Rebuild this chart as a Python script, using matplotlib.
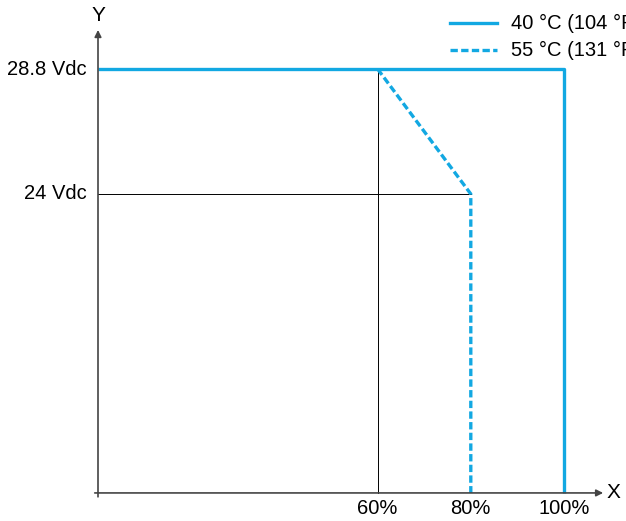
import matplotlib.pyplot as plt

plt.rcParams['font.family'] = ['Liberation Sans', 'DejaVu Sans']

# derating curves (x = load %, y = supply voltage)
x_40 = [0, 100, 100]
y_40 = [28.8, 28.8, 12.52]
x_55 = [60, 80, 80]
y_55 = [28.8, 24, 12.52]
x_ticks = [60, 80, 100]
x_labels = ["60%", "80%", "100%"]
y_ticks = [28.8, 24]
y_labels = ["28.8 Vdc", "24 Vdc"]
series_labels = ["40 °C (104 °F)", "55 °C (131 °F)"]

blue = '#12A8E2'
y0 = 12.52  # axis origin (schematic)
dash = (2.2, 1.0)

fig = plt.figure(figsize=(6.26, 5.21), dpi=100)
ax = fig.add_axes([0, 0, 1, 1])
# pixel mapping: x px = 98 + 4.66*pct ; 26.04 px per volt
ax.set_xlim(-98 / 4.66, (626 - 98) / 4.66)
ax.set_ylim(24 - (521 - 194) / 26.04, 28.8 + 69 / 26.04)
ax.axis('off')

# guide lines
ax.plot([60, 60], [y0, 28.8], color='black', lw=0.7)
ax.plot([0, 80], [24, 24], color='black', lw=0.7)

# axes with arrows
ax.annotate('', xy=(108.4, y0), xytext=(-0.7, y0),
            arrowprops=dict(arrowstyle='-|>', color='#444444', lw=1.2,
                            mutation_scale=10, shrinkA=0, shrinkB=0))
ax.annotate('', xy=(0, 30.3), xytext=(0, y0 - 0.15),
            arrowprops=dict(arrowstyle='-|>', color='#444444', lw=1.2,
                            mutation_scale=10, shrinkA=0, shrinkB=0))
ax.text((613 - 98) / 4.66, y0, 'X', fontsize=15, ha='center', va='center')
ax.text(0, 28.8 + (69 - 15) / 26.04, 'Y', fontsize=15, ha='center', va='center')

ax.plot(x_40, y_40, color=blue, lw=2.4, solid_capstyle='butt')
ax.plot(x_55, y_55, color=blue, lw=2.4, dashes=dash)

for t, lab in zip(x_ticks, x_labels):
    ax.text(t, y0 - 0.6, lab, fontsize=14.5, ha='center', va='center')
for t, lab in zip(y_ticks, y_labels):
    ax.text(-2.4, t, lab, fontsize=14.5, ha='right', va='center')

# legend (clipped at right edge like the original)
leg_y = [28.8 + (69 - 23) / 26.04, 28.8 + (69 - 50) / 26.04]
styles = [dict(), dict(dashes=dash)]
for ly, lab, st in zip(leg_y, series_labels, styles):
    ax.plot([(450 - 98) / 4.66, (497 - 98) / 4.66], [ly, ly], color=blue, lw=2.4, **st)
    ax.text((511 - 98) / 4.66, ly, lab, fontsize=14.5, ha='left', va='center')

fig.savefig('out.png', dpi=100)
